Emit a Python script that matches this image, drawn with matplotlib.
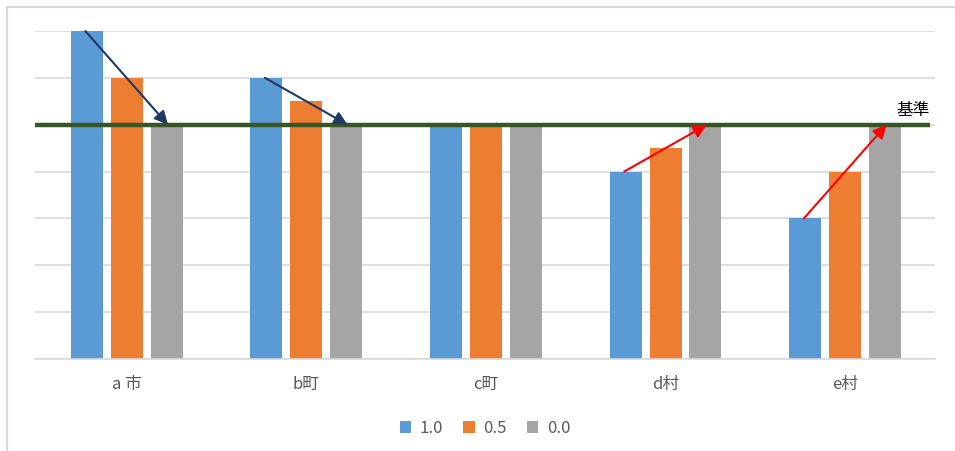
import matplotlib.pyplot as plt
from matplotlib.lines import Line2D

plt.rcParams['font.family'] = ['Noto Sans CJK JP', 'DejaVu Sans']

categories = ['a 市', 'b町', 'c町', 'd村', 'e村']
series_names = ['1.0', '0.5', '0.0']
vals_10 = [7, 6, 5, 4, 3]
vals_05 = [6, 5.5, 5, 4.5, 4]
vals_00 = [5, 5, 5, 5, 5]
base_value = 5
base_label = '基準'
colors = ['#5b9bd5', '#ed7d31', '#a5a5a5']

fig = plt.figure(figsize=(9.55, 4.51), dpi=100)
ax = fig.add_axes([35 / 955, 92 / 451, 900 / 955, 328 / 451])

# outer frame (only top and left edges visible)
fig.lines.append(Line2D([7 / 955, 1.0], [444 / 451, 444 / 451], transform=fig.transFigure,
                        color='#d9d9d9', lw=1.5))
fig.lines.append(Line2D([7 / 955, 7 / 955], [0, 444 / 451], transform=fig.transFigure,
                        color='#d9d9d9', lw=1.5))

x = list(range(len(categories)))
w = 32 / 180
step = 40 / 180
for i, (vals, name) in enumerate(zip([vals_10, vals_05, vals_00], series_names)):
    pos = [xi + (i - 1) * step for xi in x]
    ax.bar(pos, vals, width=w, color=colors[i], label=name, zorder=2)

ax.set_xlim(-0.51, 4.5)
ax.set_ylim(0, 7)
ax.set_yticks(range(0, 8))
ax.yaxis.grid(True, color='#d9d9d9', linewidth=1.2, zorder=0)
ax.set_axisbelow(True)
ax.tick_params(left=False, labelleft=False, bottom=False)
for s in ['top', 'right', 'left']:
    ax.spines[s].set_visible(False)
ax.spines['bottom'].set_color('#d9d9d9')
ax.spines['bottom'].set_linewidth(1.2)
ax.set_xticks(x)
ax.set_xticklabels(categories, fontsize=12, color='#595959')
ax.tick_params(axis='x', pad=9)

# reference line
ax.plot([-0.51, 4.47], [base_value, base_value], color='#375623', lw=3.2, zorder=3,
        solid_capstyle='butt')
ax.text(4.47, base_value + 0.13, base_label, ha='right', va='bottom', fontsize=12,
        color='#000000')

# arrows
arrows = [(0, 7, '#203864'), (1, 6, '#203864'), (3, 4, 'red'), (4, 3, 'red')]
for ci, y0, col in arrows:
    ax.annotate('', xy=(ci + 0.23, base_value), xytext=(ci - 0.23, y0),
                arrowprops=dict(arrowstyle='-|>', color=col, lw=1.5,
                                mutation_scale=20, shrinkA=0, shrinkB=0),
                zorder=4)

ax.legend(loc='upper center', bbox_to_anchor=(0.5, -0.14), ncol=3, frameon=False,
          fontsize=12, labelcolor='#595959', handlelength=0.7, handleheight=0.7,
          columnspacing=1.2, handletextpad=0.5)

fig.savefig('out.png', dpi=100)
